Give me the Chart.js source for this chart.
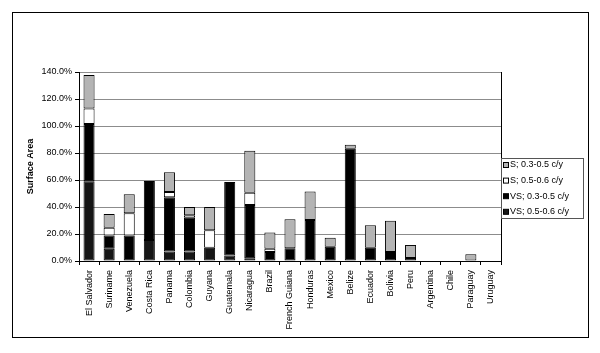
<!DOCTYPE html>
<html lang="en">
  <head>
    <meta charset="UTF-8" />
    <script src="https://cdn.jsdelivr.net/npm/chart.js"></script>
    <title>Surface Area</title>
    <style>
      body { margin: 0; background: #fff; }
    </style>
  </head>

  <body>
    <div style="width: 600px; height: 353px">
      <canvas id="myChart"></canvas>
    </div>
    <script>
      const countries = ["El Salvador", "Suriname", "Venezuela", "Costa Rica", "Panama", "Colombia", "Guyana",
        "Guatemala", "Nicaragua", "Brazil", "French Guiana", "Honduras", "Mexico", "Belize", "Ecuador",
        "Bolivia", "Peru", "Argentina", "Chile", "Paraguay", "Uruguay"];

      // values in % of surface area, bottom segment first
      const vs0506 = [59, 9, 0, 15.5, 7, 7, 9.9, 4, 2, 0, 0, 0, 0, 0, 0, 0, 0, 0, 0, 0, 0];
      const vs0305 = [42.5, 9.8, 18.8, 43.8, 40.2, 25.1, 0, 54.5, 39.5, 6.7, 9.4, 30.4, 10.6, 83.2, 9.9, 6.7, 2.2, 0, 0, 0, 0];
      const s0506 = [11.5, 5.9, 16.5, 0, 3.9, 1.7, 12.8, 0, 9.1, 2.4, 0, 0, 0, 0, 0, 0, 0, 0, 0, 0, 0];
      const s0305 = [24.8, 10.1, 14.1, 0, 14.6, 6.2, 17.3, 0, 31.1, 12.1, 21.5, 21, 6.7, 3, 16.5, 23.2, 9.7, 0, 0, 5, 0];

      const yTicks = [0, 20, 40, 60, 80, 100, 120, 140];

      const FONT = "'Liberation Sans', Arial, sans-serif";

      const data = {
        labels: countries,
        datasets: [
          { label: "VS; 0.5-0.6 c/y", data: vs0506, backgroundColor: "#161616" },
          { label: "VS; 0.3-0.5 c/y", data: vs0305, backgroundColor: "#000000" },
          { label: "S; 0.5-0.6 c/y", data: s0506, backgroundColor: "#ffffff" },
          { label: "S; 0.3-0.5 c/y", data: s0305, backgroundColor: "#b4b4b4" },
        ],
      };
      data.datasets.forEach(ds => {
        ds.borderColor = "#000";
        ds.borderWidth = 1;
        ds.borderSkipped = false;
        ds.barPercentage = 0.55;
        ds.categoryPercentage = 1;
      });

      // outer frame, right edge of plot and boxed legend
      const framePlugin = {
        id: "frame",
        afterDraw(chart) {
          const ctx = chart.ctx;
          const a = chart.chartArea;
          ctx.save();
          ctx.strokeStyle = "#000";
          ctx.lineWidth = 1;
          ctx.strokeRect(12.5, 12.5, 576, 325);
          ctx.beginPath();
          ctx.moveTo(Math.round(a.right) + 0.5, a.top);
          ctx.lineTo(Math.round(a.right) + 0.5, a.bottom);
          ctx.stroke();

          // legend, top entry = top of stack
          ctx.strokeStyle = "#555";
          ctx.strokeRect(501.5, 158.5, 82, 60);
          ctx.font = "9px " + FONT;
          ctx.textBaseline = "middle";
          const items = chart.data.datasets.slice().reverse();
          items.forEach((ds, i) => {
            const y = 165 + i * 15.6;
            ctx.fillStyle = ds.backgroundColor;
            ctx.fillRect(503.5, y - 2.5, 5, 5);
            ctx.strokeStyle = "#000";
            ctx.strokeRect(503.5, y - 2.5, 5, 5);
            ctx.fillStyle = "#000";
            ctx.fillText(ds.label, 510, y);
          });
          ctx.restore();
        },
      };

      const config = {
        type: "bar",
        data,
        options: {
          responsive: true,
          maintainAspectRatio: false,
          animation: false,
          layout: { padding: { left: 13, top: 72, right: 99, bottom: 0 } },
          plugins: {
            legend: { display: false },
            tooltip: { enabled: false },
          },
          scales: {
            x: {
              stacked: true,
              offset: true,
              afterFit: (s) => { s.height = 92; },
              grid: { offset: true, drawOnChartArea: false, drawTicks: true, tickLength: 4, color: "#000" },
              border: { color: "#000" },
              ticks: {
                color: "#000",
                font: { family: FONT, size: 9 },
                maxRotation: 90,
                minRotation: 90,
                autoSkip: false,
                padding: 5,
              },
            },
            y: {
              stacked: true,
              min: 0,
              max: 140,
              afterFit: (s) => { s.width = 66; },
              afterBuildTicks: (s) => { s.ticks = yTicks.map(v => ({ value: v })); },
              grid: { color: "#8c8c8c", tickLength: 4, tickColor: "#000" },
              border: { color: "#000" },
              ticks: {
                color: "#000",
                font: { family: FONT, size: 9 },
                padding: 3,
                callback: (v) => v.toFixed(1) + "%",
              },
              title: {
                display: true,
                text: "Surface Area",
                color: "#000",
                font: { family: FONT, size: 9, weight: "bold" },
                padding: { top: 12, bottom: 0 },
              },
            },
          },
        },
        plugins: [framePlugin],
      };
      var myChart = new Chart(document.getElementById("myChart"), config);
    </script>
  </body>
</html>
